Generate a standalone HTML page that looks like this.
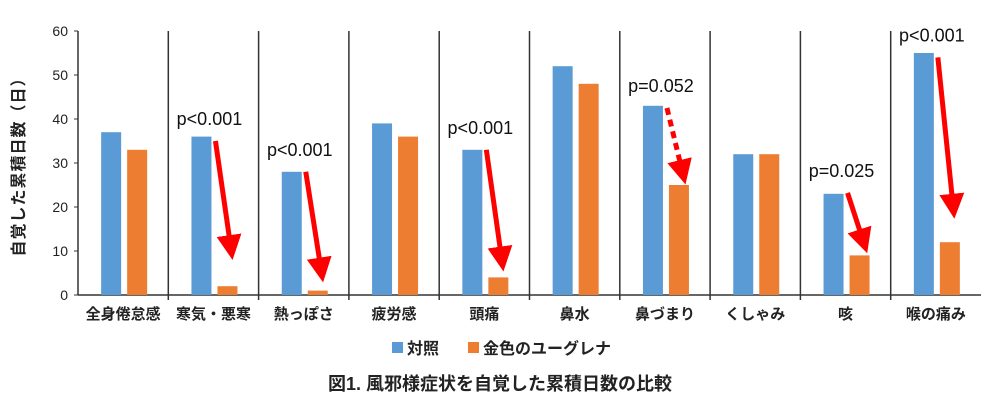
<!DOCTYPE html>
<html><head><meta charset="utf-8">
<style>
body{margin:0;background:#fff;}
svg{display:block;font-family:"Liberation Sans","Noto Sans CJK JP",sans-serif;}
</style></head>
<body>
<svg id="chart" width="1000" height="410" viewBox="0 0 1000 410"></svg>
<script>
const categories=["全身倦怠感","寒気・悪寒","熱っぽさ","疲労感","頭痛","鼻水","鼻づまり","くしゃみ","咳","喉の痛み"];
const controlValues=[37,36,28,39,33,52,43,32,23,55];
const euglenaValues=[33,2,1,36,4,48,25,32,9,12];
const yTicks=[0,10,20,30,40,50,60];
const pLabels=["","p<0.001","p<0.001","","p<0.001","","p=0.052","","p=0.025","p<0.001"];
const arrowStart=[null,35,28,null,33,null,42.5,null,23.2,54];
const arrowEnd=[null,8.6,3.5,null,6,null,25.7,null,10,18];
const arrowDashed=[false,false,false,false,false,false,true,false,false,false];

const svg=document.getElementById('chart');
const NS="http://www.w3.org/2000/svg";
const x0=78,x1=981,yBase=295,yTop=31,yMax=60;
const step=(x1-x0)/categories.length;
const y=v=>yBase-(v/yMax)*(yBase-yTop);
const cx=i=>x0+(i+0.5)*step;
function mk(tag,attrs,parent){const e=document.createElementNS(NS,tag);for(const k in attrs)e.setAttribute(k,attrs[k]);(parent||svg).appendChild(e);return e;}

const defs=mk('defs',{});
const mrk=mk('marker',{id:'ah',markerWidth:'5',markerHeight:'5',refX:'2',refY:'2.5',orient:'auto',markerUnits:'strokeWidth'},defs);
mk('path',{d:'M0,0 L5,2.5 L0,5 Z',fill:'#ff0000'},mrk);

yTicks.forEach(t=>{
  const tk=mk('line',{x1:x0-4,x2:x0,y1:y(t),y2:y(t),stroke:'#333','stroke-width':1});
  
  
  const tl=mk('text',{x:x0-10,y:y(t)+5,'text-anchor':'end','font-size':14,fill:'#222'});
  tl.textContent=t;
  
  
});
for(let i=1;i<categories.length;i++){
  const s=mk('line',{x1:x0+i*step,x2:x0+i*step,y1:yTop,y2:yBase+5,stroke:'#333','stroke-width':1.5});
  
  
}
const ya=mk('line',{x1:x0,x2:x0,y1:yTop,y2:yBase,stroke:'#333','stroke-width':1.5});


const xa=mk('line',{x1:x0,x2:x1,y1:yBase,y2:yBase,stroke:'#333','stroke-width':1.5});



categories.forEach((c,i)=>{
  const b=mk('rect',{x:cx(i)-22,y:y(controlValues[i]),width:20,height:yBase-y(controlValues[i]),fill:'#5b9bd5'});
  
  
  const o=mk('rect',{x:cx(i)+4,y:y(euglenaValues[i]),width:20,height:yBase-y(euglenaValues[i]),fill:'#ed7d31'});
  
  
  const l=mk('text',{x:cx(i),y:319,'text-anchor':'middle','font-size':15,'font-weight':'bold',fill:'#222'});
  l.textContent=c;
  
  
  if(arrowStart[i]!=null){
    const a=mk('line',{x1:cx(i)+2,y1:y(arrowStart[i]),x2:cx(i)+17,y2:y(arrowEnd[i])-12,stroke:'#ff0000','stroke-width':5,'marker-end':'url(#ah)'});
    if(arrowDashed[i])a.setAttribute('stroke-dasharray','7,5');
    
    
    const p=mk('text',{x:cx(i)-4,y:y(arrowStart[i])-16,'text-anchor':'middle','font-size':18,fill:'#111'});
    p.textContent=pLabels[i];
    
    
  }
});

const yt=mk('text',{x:0,y:0,transform:'translate(24,163) rotate(-90)','text-anchor':'middle','font-size':16,'font-weight':'bold',fill:'#222','letter-spacing':'1'});
yt.textContent='自覚した累積日数（日）';



const lg=mk('g',{});


const ls1=mk('rect',{x:392,y:342,width:11,height:11,fill:'#5b9bd5'},lg);


const lt1=mk('text',{x:407,y:354,'font-size':16,'font-weight':'bold',fill:'#222'},lg);
lt1.textContent='対照';


const ls2=mk('rect',{x:468,y:342,width:11,height:11,fill:'#ed7d31'},lg);


const lt2=mk('text',{x:483,y:354,'font-size':16,'font-weight':'bold',fill:'#222'},lg);
lt2.textContent='金色のユーグレナ';



const ti=mk('text',{x:500,y:390,'text-anchor':'middle','font-size':18,'font-weight':'bold',fill:'#222'});
ti.textContent='図1. 風邪様症状を自覚した累積日数の比較';


</script>
</body></html>
